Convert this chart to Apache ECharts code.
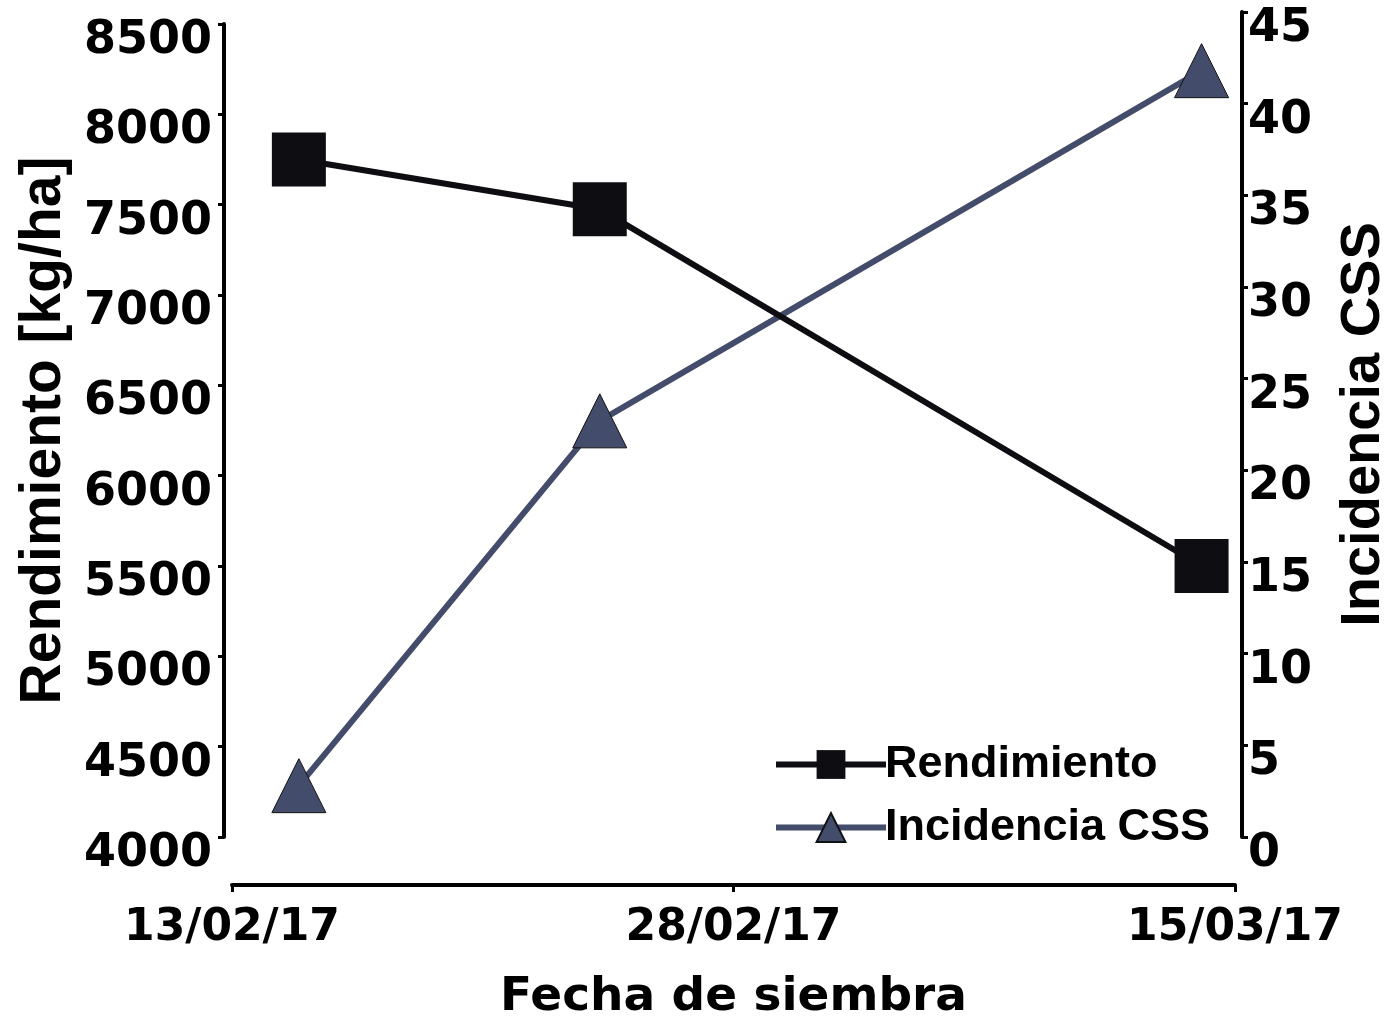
<!DOCTYPE html>
<html>
<head>
<meta charset="utf-8">
<script src="https://cdn.jsdelivr.net/npm/echarts@6/dist/echarts.min.js"></script>
<style>
html,body{margin:0;padding:0;background:#fff;}
#chart{width:1389px;height:1025px;}
</style>
</head>
<body>
<div id="chart"></div>
<script>
// ---- data ----
const sowingDates = ['15/02/17', '24/02/17', '14/03/17'];
const rendimiento = [7750, 7475, 5500];        // kg/ha (left axis)
const incidenciaCSS = [2.8, 22.7, 41.8];        // % (right axis)
const xTickLabels = ['13/02/17', '28/02/17', '15/03/17'];
const seriesNames = ['Rendimiento', 'Incidencia CSS'];

function dayNum(s) {
  const p = s.split('/');
  return Date.UTC(2000 + (+p[2]), (+p[1]) - 1, +p[0]) / 86400000;
}
const day0 = dayNum(xTickLabels[0]);
const xDays = sowingDates.map(d => dayNum(d) - day0);
const xTickDays = xTickLabels.map(d => dayNum(d) - day0);
const xMax = xTickDays[xTickDays.length - 1];
const xInterval = xTickDays[1] - xTickDays[0];

const tickFont = 'DejaVu Sans';
const nameFont = 'Liberation Sans';
const axisCol = '#000';

const chart = echarts.init(document.getElementById('chart'), null, {renderer: 'canvas'});
const option = {
  backgroundColor: '#fff',
  animation: false,
  grid: [
    {left: 232, right: 154, top: 24, bottom: 188, outerBoundsMode: 'none', containLabel: false},
    {left: 232, right: 154, top: 12, bottom: 188, outerBoundsMode: 'none', containLabel: false}
  ],
  xAxis: [
    {
      type: 'value', gridIndex: 0, min: 0, max: xMax, interval: xInterval,
      offset: 48,
      axisLine: {show: true, onZero: false, lineStyle: {color: axisCol, width: 4}},
      axisTick: {show: true, inside: false, length: 7, lineStyle: {color: axisCol, width: 3}},
      splitLine: {show: false},
      axisLabel: {
        margin: 22, color: '#000', fontFamily: tickFont, fontWeight: 'bold', fontSize: 44,
        formatter: v => { const i = xTickDays.indexOf(v); return i >= 0 ? xTickLabels[i] : ''; }
      },
      name: 'Fecha de siembra', nameLocation: 'middle', nameGap: 89,
      nameTextStyle: {color: '#000', fontFamily: tickFont, fontWeight: 'bold', fontSize: 47}
    },
    {
      type: 'value', gridIndex: 1, min: 0, max: xMax, interval: xInterval, show: false,
      axisLine: {onZero: false}
    }
  ],
  yAxis: [
    {
      type: 'value', gridIndex: 0, position: 'left', min: 4000, max: 8500, interval: 500,
      offset: 8,
      axisLine: {show: true, onZero: false, lineStyle: {color: axisCol, width: 4}},
      axisTick: {show: true, inside: false, length: 6, lineStyle: {color: axisCol, width: 3}},
      splitLine: {show: false},
      axisLabel: {
        margin: 12, color: '#000', fontFamily: tickFont, fontWeight: 'bold', fontSize: 46,
        verticalAlign: 'top', lineHeight: 34,
        formatter: v => String(v)
      },
      name: 'Rendimiento [kg/ha]', nameLocation: 'middle', nameGap: 146, nameRotate: 90,
      nameTextStyle: {color: '#000', fontFamily: nameFont, fontWeight: 'bold', fontSize: 57}
    },
    {
      type: 'value', gridIndex: 1, position: 'right', min: 0, max: 45, interval: 5,
      offset: 7,
      axisLine: {show: true, onZero: false, lineStyle: {color: axisCol, width: 4}},
      axisTick: {show: true, inside: false, length: 6, lineStyle: {color: axisCol, width: 3}},
      splitLine: {show: false},
      axisLabel: {
        margin: 6, color: '#000', fontFamily: tickFont, fontWeight: 'bold', fontSize: 46,
        verticalAlign: 'top', lineHeight: 34,
        formatter: v => String(v)
      },
      name: 'Incidencia CSS', nameLocation: 'middle', nameGap: 94, nameRotate: 90,
      nameTextStyle: {color: '#000', fontFamily: nameFont, fontWeight: 'bold', fontSize: 56}
    }
  ],
  legend: {
    orient: 'vertical', left: 768, top: 737,
    itemWidth: 110, itemHeight: 36, itemGap: 18,
    lineStyle: {width: 6},
    textStyle: {color: '#000', fontFamily: nameFont, fontWeight: 'bold', fontSize: 45, lineHeight: 45,
      padding: [0, 0, 0, -6]},
    data: seriesNames
  },
  series: [
    {
      name: seriesNames[0], type: 'line', xAxisIndex: 0, yAxisIndex: 0,
      data: xDays.map((x, i) => [x, rendimiento[i]]),
      symbol: 'rect', symbolSize: 54,
      lineStyle: {color: '#0d0d12', width: 6},
      itemStyle: {color: '#0d0d12', borderColor: '#0d0d12', borderWidth: 0},
      z: 3
    },
    {
      name: seriesNames[1], type: 'line', xAxisIndex: 1, yAxisIndex: 1,
      data: xDays.map((x, i) => [x, incidenciaCSS[i]]),
      symbol: 'triangle', symbolSize: 54,
      lineStyle: {color: '#434d6b', width: 6},
      itemStyle: {color: '#434d6b', borderColor: '#111', borderWidth: 1},
      z: 2
    }
  ]
};
chart.setOption(option);
</script>
</body>
</html>
